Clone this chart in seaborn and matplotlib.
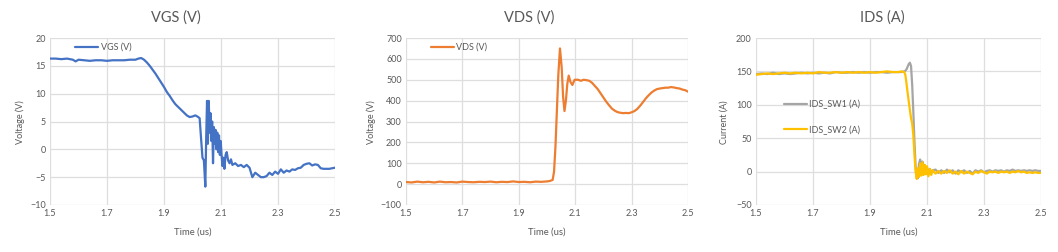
import matplotlib
matplotlib.use("Agg")
import matplotlib.pyplot as plt
import seaborn as sns
import pandas as pd

# ---------------- data ----------------
vgs_t = [1.50, 1.52, 1.54, 1.56, 1.58, 1.59, 1.60, 1.62, 1.64, 1.66, 1.68, 1.70, 1.72, 1.74, 1.76, 1.78,
         1.80, 1.81, 1.82, 1.83, 1.84, 1.85, 1.86, 1.87, 1.88, 1.89, 1.90, 1.91, 1.92, 1.93, 1.94, 1.95,
         1.96, 1.97, 1.98, 1.99, 2.00, 2.01, 2.02, 2.025, 2.03, 2.035, 2.04, 2.045, 2.048, 2.051, 2.054,
         2.057, 2.060, 2.063, 2.066, 2.069, 2.072, 2.075, 2.078, 2.081, 2.084, 2.087, 2.090, 2.093, 2.096,
         2.099, 2.102, 2.105, 2.108, 2.112, 2.116, 2.12, 2.125, 2.13, 2.135, 2.14, 2.15, 2.16, 2.17, 2.18,
         2.19, 2.20, 2.21, 2.22, 2.23, 2.24, 2.25, 2.26, 2.27, 2.28, 2.29, 2.30, 2.31, 2.32, 2.33, 2.34,
         2.35, 2.36, 2.37, 2.38, 2.39, 2.40, 2.41, 2.42, 2.43, 2.44, 2.45, 2.46, 2.47, 2.48, 2.49, 2.50]
vgs_v = [16.3, 16.3, 16.2, 16.3, 16.1, 15.8, 16.1, 16.0, 15.9, 16.0, 16.0, 15.9, 16.0, 16.0, 16.0, 16.1,
         16.1, 16.3, 16.4, 16.1, 15.6, 15.0, 14.3, 13.6, 12.8, 12.0, 11.2, 10.3, 9.6, 8.8, 8.1, 7.6,
         7.1, 6.6, 6.1, 5.8, 5.9, 6.1, 5.8, 5.6, 2.0, -1.5, -2.0, -6.7, 2.0, 8.7, 1.0,
         8.7, 3.0, 6.5, 1.5, 5.0, -2.5, 4.0, 1.0, 3.5, 0.0, 3.0, -0.5, 2.5, -1.0,
         1.5, -1.0, -3.0, -1.5, -3.5, -1.0, -0.5, -2.0, -2.5, -1.8, -2.8, -2.5, -3.0, -2.8, -3.2,
         -2.8, -3.3, -5.0, -4.2, -4.6, -5.0, -5.0, -4.8, -4.2, -4.6, -4.0, -4.4, -3.6, -4.2, -3.8, -4.0,
         -3.6, -3.7, -3.4, -3.3, -2.8, -2.6, -2.5, -2.9, -2.7, -2.8, -3.4, -3.5, -3.5, -3.5, -3.4, -3.3]

vds_t = [1.50, 1.52, 1.54, 1.56, 1.58, 1.60, 1.62, 1.64, 1.66, 1.68, 1.70, 1.72, 1.74, 1.76, 1.78, 1.80,
         1.82, 1.84, 1.86, 1.88, 1.90, 1.92, 1.94, 1.96, 1.98, 2.00, 2.01, 2.02, 2.025, 2.03, 2.035, 2.04,
         2.046, 2.052, 2.057, 2.062, 2.067, 2.072, 2.077, 2.083, 2.09, 2.098, 2.11, 2.12, 2.13, 2.14, 2.15,
         2.16, 2.17, 2.18, 2.19, 2.20, 2.21, 2.22, 2.23, 2.24, 2.25, 2.26, 2.27, 2.28, 2.29, 2.30, 2.31,
         2.32, 2.33, 2.34, 2.35, 2.36, 2.37, 2.38, 2.39, 2.40, 2.41, 2.42, 2.43, 2.44, 2.45, 2.46, 2.47,
         2.48, 2.49, 2.50]
vds_v = [10, 8, 12, 9, 11, 8, 12, 9, 10, 8, 12, 10, 9, 11, 10, 12,
         9, 11, 10, 13, 10, 11, 9, 12, 11, 13, 15, 20, 60, 180, 350, 520,
         650, 560, 420, 350, 400, 480, 520, 490, 475, 500, 500, 495, 500, 498, 495,
         485, 470, 455, 435, 415, 395, 378, 362, 352, 345, 342, 340, 341, 340, 344, 350,
         360, 375, 392, 410, 425, 438, 448, 455, 458, 460, 462, 462, 465, 463, 460, 458,
         453, 450, 443]

ids_t = [1.50, 1.52, 1.54, 1.56, 1.58, 1.60, 1.62, 1.64, 1.66, 1.68, 1.70, 1.72, 1.74, 1.76, 1.78, 1.80,
         1.82, 1.84, 1.86, 1.88, 1.90, 1.92, 1.94, 1.96, 1.98, 2.00, 2.01, 2.02, 2.024, 2.028, 2.032,
         2.036, 2.040, 2.044, 2.048, 2.052, 2.056, 2.060, 2.064, 2.068, 2.072, 2.076, 2.080, 2.084, 2.088,
         2.092, 2.096, 2.10, 2.105, 2.11, 2.115, 2.12, 2.13, 2.14, 2.15, 2.16, 2.17, 2.18, 2.19, 2.20,
         2.21, 2.22, 2.23, 2.24, 2.25, 2.26, 2.27, 2.28, 2.29, 2.30, 2.31, 2.32, 2.33, 2.34, 2.35, 2.36,
         2.37, 2.38, 2.39, 2.40, 2.41, 2.42, 2.43, 2.44, 2.45, 2.46, 2.47, 2.48, 2.49, 2.50]
ids_sw1 = [146, 147, 146, 148, 146, 147, 146, 147, 148, 147, 148, 147, 148, 147, 149, 148,
           148, 149, 148, 149, 148, 149, 149, 148, 149, 149, 149, 150, 151, 153, 157,
           161, 163, 158, 130, 90, 45, 8, -8, -10, 12, 18, 5, 15, -2,
           10, 0, 6, -3, 4, -2, 2, 3, -2, 2, -2, 3, -1, 2, -3,
           2, -1, 2, -2, 1, -3, 2, 0, 2, -1, 1, 2, 0, 2, 1, 2,
           0, 2, 1, 3, 1, 2, 1, 2, 1, 2, 1, 2, 1, 1]
ids_sw2 = [145, 146, 147, 146, 147, 148, 147, 148, 147, 148, 147, 149, 148, 148, 149, 148,
           149, 148, 149, 148, 149, 148, 149, 150, 149, 149, 150, 149, 145, 132, 118,
           105, 92, 80, 72, 55, 25, 0, -11, 5, -8, 12, -6, 14, -5,
           10, -4, 8, -7, 4, -5, 2, -3, 1, -3, 1, -2, 2, -3, 0,
           -4, 1, -3, 0, -2, -4, 0, -2, 1, -1, -3, 0, -1, 0, -2, 0,
           -1, 0, -2, 0, -1, 1, -1, 0, -2, -1, -2, -1, -2, -2]

x_ticks = [1.5, 1.7, 1.9, 2.1, 2.3, 2.5]
titles = ["VGS (V)", "VDS (V)", "IDS (A)"]
ylabels = ["Voltage (V)", "Voltage (V)", "Current (A)"]

# ---------------- style ----------------
sns.set_theme(style="whitegrid")
plt.rcParams['font.family'] = ['Lato', 'DejaVu Sans']
TXT = "#595959"
GRID = "#dedede"

fig = plt.figure(figsize=(10.58, 2.52), dpi=100)
W, H = 1058, 252

def make_ax(left_px, right_px):
    return fig.add_axes([left_px / W, (H - 205) / H, (right_px - left_px) / W, 167 / H])

axes = [make_ax(50, 335), make_ax(406, 688), make_ax(756, 1041)]

df_vgs = pd.DataFrame({"t": vgs_t, "v": vgs_v})
df_vds = pd.DataFrame({"t": vds_t, "v": vds_v})
df_ids = pd.concat([
    pd.DataFrame({"t": ids_t, "v": ids_sw1, "s": "IDS_SW1 (A)"}),
    pd.DataFrame({"t": ids_t, "v": ids_sw2, "s": "IDS_SW2 (A)"}),
])

LW = 1.6
sns.lineplot(data=df_vgs, x="t", y="v", ax=axes[0], color="#4472C4", lw=LW, label="VGS (V)")
sns.lineplot(data=df_vds, x="t", y="v", ax=axes[1], color="#ED7D31", lw=LW, label="VDS (V)")
sns.lineplot(data=df_ids, x="t", y="v", hue="s", ax=axes[2],
             palette={"IDS_SW1 (A)": "#A5A5A5", "IDS_SW2 (A)": "#FFC000"}, lw=LW)

ylims = [(-10, 20, 5), (-100, 700, 100), (-50, 200, 50)]
panel_centers = [176, 529, 882]
ylabel_x = [20, 371, 724]

for i, ax in enumerate(axes):
    lo, hi, st = ylims[i]
    ax.set_xlim(1.5, 2.5)
    ax.set_ylim(lo, hi)
    ax.set_xticks(x_ticks)
    ax.set_xticklabels([f"{v:.1f}" for v in x_ticks])
    ax.set_yticks(list(range(lo, hi + 1, st)))
    ax.grid(True, color=GRID, lw=0.9)
    for s in ax.spines.values():
        s.set_visible(False)
    ax.tick_params(axis="both", labelsize=6.5, colors=TXT, length=0, pad=3)
    ax.set_xlabel("")
    ax.set_ylabel("")
    fig.text(panel_centers[i] / W, 1 - 18 / H, titles[i], ha="center", va="center",
             fontsize=10.5, color=TXT)
    fig.text(ylabel_x[i] / W, 1 - 122 / H, ylabels[i], ha="center", va="center",
             rotation=90, fontsize=6.5, color=TXT)
    bb = ax.get_position()
    fig.text((bb.x0 + bb.x1) / 2, 1 - 232 / H, "Time (us)", ha="center", va="center",
             fontsize=6.8, color=TXT)

for ax, anchor, sp in [(axes[0], (0.06, 1.02), 0.5), (axes[1], (0.06, 1.02), 0.5),
                       (axes[2], (0.07, 0.68), 1.8)]:
    leg = ax.legend(loc="upper left", bbox_to_anchor=anchor, frameon=False,
                    fontsize=6.5, handlelength=2.5, handletextpad=0.3, labelspacing=sp)
    for t in leg.get_texts():
        t.set_color(TXT)

fig.savefig("out.png", dpi=100, facecolor="white")
